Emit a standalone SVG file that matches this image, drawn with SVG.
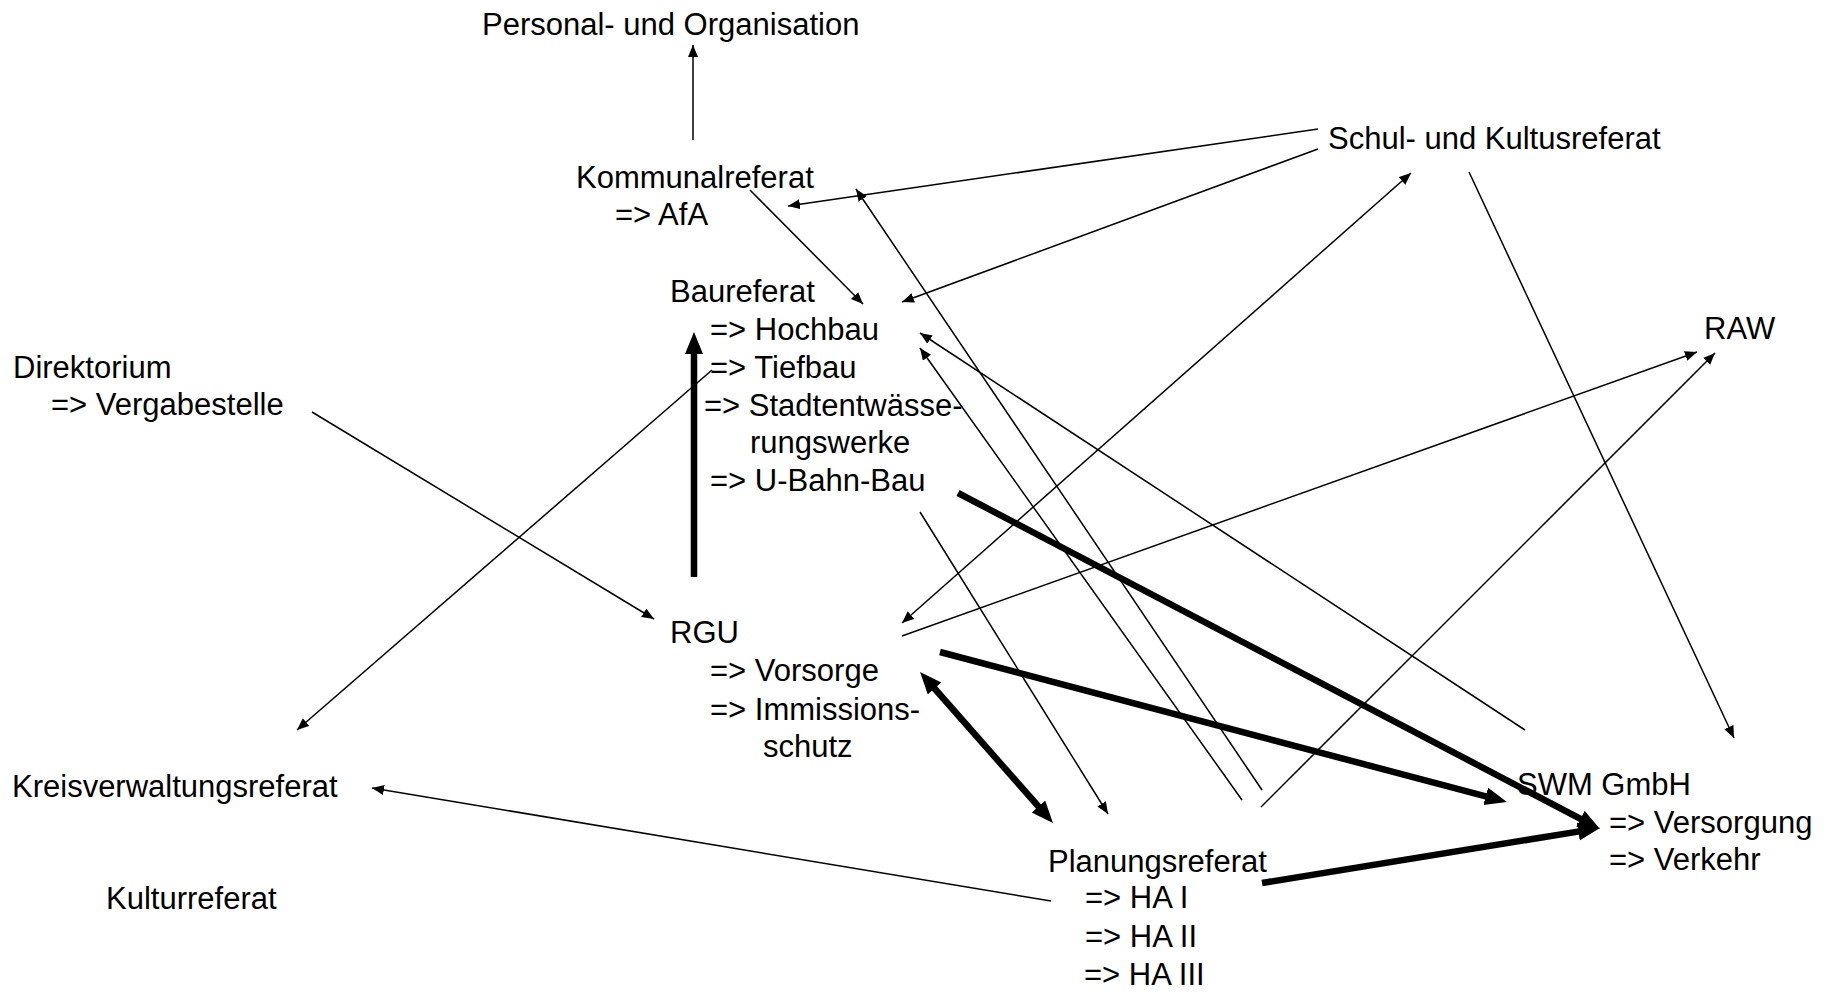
<svg xmlns="http://www.w3.org/2000/svg" width="1831" height="994" viewBox="0 0 1831 994">
<style>
text{font-family:"Liberation Sans",Arial,sans-serif;font-size:31px;fill:#000}
.t{stroke:#000;stroke-width:1.5;fill:none;marker-end:url(#a)}
.d{marker-start:url(#a)}
.k{stroke:#000;stroke-width:6.5;fill:none;stroke-linecap:butt;marker-end:url(#b)}
.kd{marker-start:url(#b)}
</style>
<defs>
<marker id="a" markerUnits="userSpaceOnUse" markerWidth="13" markerHeight="11" refX="12" refY="5" orient="auto-start-reverse" viewBox="0 0 13 11"><path d="M0,0 L12,5 L0,10 z" fill="#000"/></marker>
<marker id="b" markerUnits="userSpaceOnUse" markerWidth="23" markerHeight="19" refX="6" refY="9" orient="auto-start-reverse" viewBox="0 0 23 19"><path d="M0,0 L22,9 L0,18 z" fill="#000"/></marker>
</defs>
<rect width="1831" height="994" fill="#fff"/>
<g id="connectors">
<line class="t" x1="693" y1="140" x2="693" y2="45"/>
<line class="t" x1="1318" y1="129" x2="788" y2="206"/>
<line class="t" x1="1318" y1="149" x2="902" y2="302"/>
<line class="t" x1="750" y1="190" x2="863" y2="304"/>
<line class="t" x1="1262" y1="790" x2="856" y2="189"/>
<line class="t" x1="1242" y1="800" x2="920" y2="348"/>
<line class="t" x1="1525" y1="730" x2="920" y2="333"/>
<line class="t" x1="920" y1="512" x2="1108" y2="814"/>
<line class="t" x1="712" y1="370" x2="297" y2="730"/>
<line class="t" x1="312" y1="412" x2="654" y2="619"/>
<line class="t d" x1="902" y1="623" x2="1411" y2="173"/>
<line class="t" x1="902" y1="636" x2="1697" y2="352"/>
<line class="t" x1="1261" y1="807" x2="1715" y2="353"/>
<line class="t" x1="1469" y1="172" x2="1734" y2="738"/>
<line class="t" x1="1051" y1="901" x2="372" y2="788"/>
<line class="k" x1="694" y1="577" x2="694" y2="348"/>
<line class="k" x1="958" y1="493" x2="1585.8" y2="821.6"/>
<line class="k" x1="940" y1="652" x2="1491.5" y2="797.9"/>
<line class="k kd" x1="930.6" y1="684" x2="1042.4" y2="811"/>
<line class="k" x1="1262" y1="883" x2="1584.2" y2="830.6"/>
</g>
<g id="personal"><text x="482" y="35">Personal- und Organisation</text></g>
<g id="kommunalreferat"><text x="576" y="188">Kommunalreferat</text><text x="615" y="225">=&gt; AfA</text></g>
<g id="schul"><text x="1328" y="149">Schul- und Kultusreferat</text></g>
<g id="raw"><text x="1704" y="339">RAW</text></g>
<g id="direktorium"><text x="13" y="378">Direktorium</text><text x="51" y="415">=&gt; Vergabestelle</text></g>
<g id="baureferat"><text x="670" y="302">Baureferat</text><text x="710" y="340">=&gt; Hochbau</text><text x="710" y="378">=&gt; Tiefbau</text><text x="704" y="416">=&gt; Stadtentwässe-</text><text x="750" y="453">rungswerke</text><text x="710" y="491">=&gt; U-Bahn-Bau</text></g>
<g id="rgu"><text x="670" y="643">RGU</text><text x="710" y="681">=&gt; Vorsorge</text><text x="710" y="720">=&gt; Immissions-</text><text x="763" y="757">schutz</text></g>
<g id="kreisverwaltungsreferat"><text x="12" y="797">Kreisverwaltungsreferat</text></g>
<g id="kulturreferat"><text x="106" y="909">Kulturreferat</text></g>
<g id="planungsreferat"><text x="1048" y="872">Planungsreferat</text><text x="1085" y="908">=&gt; HA I</text><text x="1085" y="947">=&gt; HA II</text><text x="1084" y="985">=&gt; HA III</text></g>
<g id="swm"><text x="1517" y="795">SWM GmbH</text><text x="1609" y="833">=&gt; Versorgung</text><text x="1609" y="870">=&gt; Verkehr</text></g>
</svg>
